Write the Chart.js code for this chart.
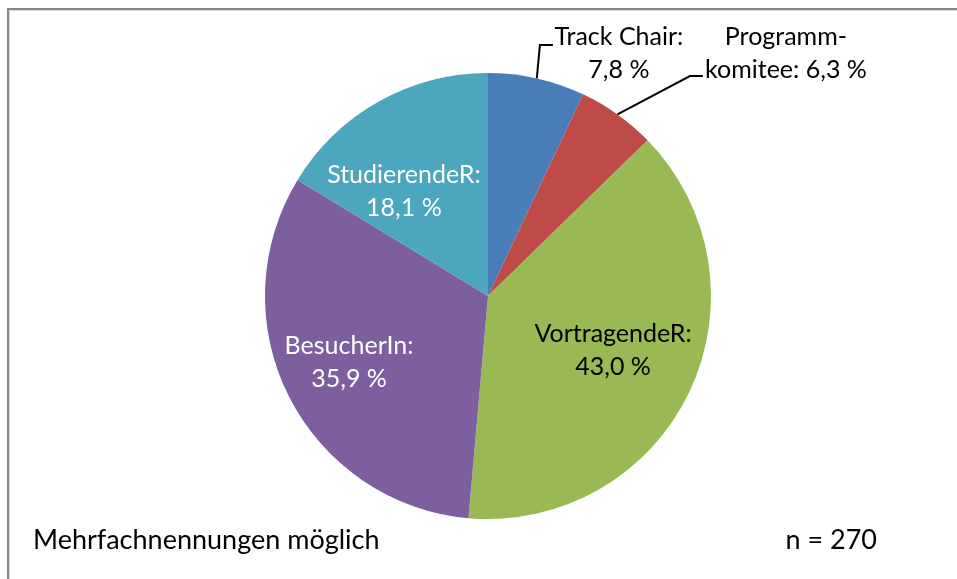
<!DOCTYPE html>
<html lang="de">
<head>
<meta charset="UTF-8">
<title>Rolle der Teilnehmenden</title>
<script src="https://cdn.jsdelivr.net/npm/chart.js@4/dist/chart.umd.min.js"></script>
<style>
    html,body{margin:0;padding:0;background:#fff;}
    #wrap{width:957px;height:579px;}
</style>
</head>
<body>
<div id="wrap"><canvas id="chart" width="957" height="579"></canvas></div>
<script>
    // Daten
    const labels=["Track Chair:","Programm-\nkomitee:","VortragendeR:","BesucherIn:","StudierendeR:"];
    const values=[7.8,6.3,43.0,35.9,18.1];
    const valueText=["7,8 %","6,3 %","43,0 %","35,9 %","18,1 %"];
    const footLeft="Mehrfachnennungen möglich";
    const footRight="n = 270";

    const colors=["#4A7EBB","#BE4B48","#98B954","#7D5FA0","#4BA6BE"];
    const textColors=["#000","#000","#000","#fff","#fff"];
    const FONT="25px Lato";
    const FOOT_FONT="27px Lato";

    // label placement in units of radius, relative to pie centre
    const placement=[
        {dx:0.587,dy:-1.087,leader:{ex:-79,ey:-8.5,tx:-66}},
        {dx:1.336,dy:-1.087,leader:{ex:-96,ey:22.5,tx:-83}},
        {dx:0.561,dy:0.246},
        {dx:-0.623,dy:0.300},
        {dx:-0.377,dy:-0.469}
    ];

    function lines(i){
        if(i===1) return ["Programm-","komitee: "+valueText[i]];
        return [labels[i],valueText[i]];
    }

    const framePlugin={
        id:"frame",
        beforeDraw(chart){
            const ctx=chart.ctx;
            ctx.save();
            ctx.fillStyle="#868686";
            ctx.fillRect(7,8,chart.width-7,2);
            ctx.fillRect(7,8,2,chart.height-8);
            ctx.fillStyle="#d9d9d9";
            ctx.fillRect(9,10,chart.width-9,1);
            ctx.fillRect(9,10,1,chart.height-10);
            ctx.restore();
        }
    };

    const labelPlugin={
        id:"pieLabels",
        afterDatasetsDraw(chart){
            const ctx=chart.ctx;
            const arcs=chart.getDatasetMeta(0).data;
            ctx.save();
            ctx.font=FONT;
            ctx.textAlign="center";
            ctx.textBaseline="middle";
            arcs.forEach((arc,i)=>{
                const {x,y,outerRadius,startAngle,endAngle}=arc.getProps(["x","y","outerRadius","startAngle","endAngle"],true);
                const p=placement[i];
                const cx=x+p.dx*outerRadius;
                const cy=y+p.dy*outerRadius;
                if(p.leader){
                    const mid=(startAngle+endAngle)/2;
                    const sx=x+Math.cos(mid)*outerRadius;
                    const sy=y+Math.sin(mid)*outerRadius;
                    ctx.strokeStyle="#000";
                    ctx.lineWidth=2;
                    ctx.beginPath();
                    ctx.moveTo(sx,sy);
                    ctx.lineTo(cx+p.leader.ex,cy+p.leader.ey);
                    ctx.lineTo(cx+p.leader.tx,cy+p.leader.ey);
                    ctx.stroke();
                }
                ctx.fillStyle=textColors[i];
                const ls=lines(i);
                ctx.fillText(ls[0],cx,cy-16.5);
                ctx.fillText(ls[1],cx,cy+16.5);
            });
            ctx.font=FOOT_FONT;
            ctx.fillStyle="#000";
            ctx.textAlign="left";
            ctx.fillText(footLeft,33,540);
            ctx.textAlign="right";
            ctx.fillText(footRight,877,540);
            ctx.restore();
        }
    };

    new Chart(document.getElementById("chart"),{
        type:"pie",
        data:{
            labels:labels,
            datasets:[{
                data:values,
                backgroundColor:colors,
                borderWidth:0
            }]
        },
        options:{
            responsive:false,
            animation:false,
            layout:{padding:{left:265,right:246,top:73,bottom:60}},
            plugins:{
                legend:{display:false},
                tooltip:{enabled:false}
            }
        },
        plugins:[framePlugin,labelPlugin]
    });
</script>
</body>
</html>
